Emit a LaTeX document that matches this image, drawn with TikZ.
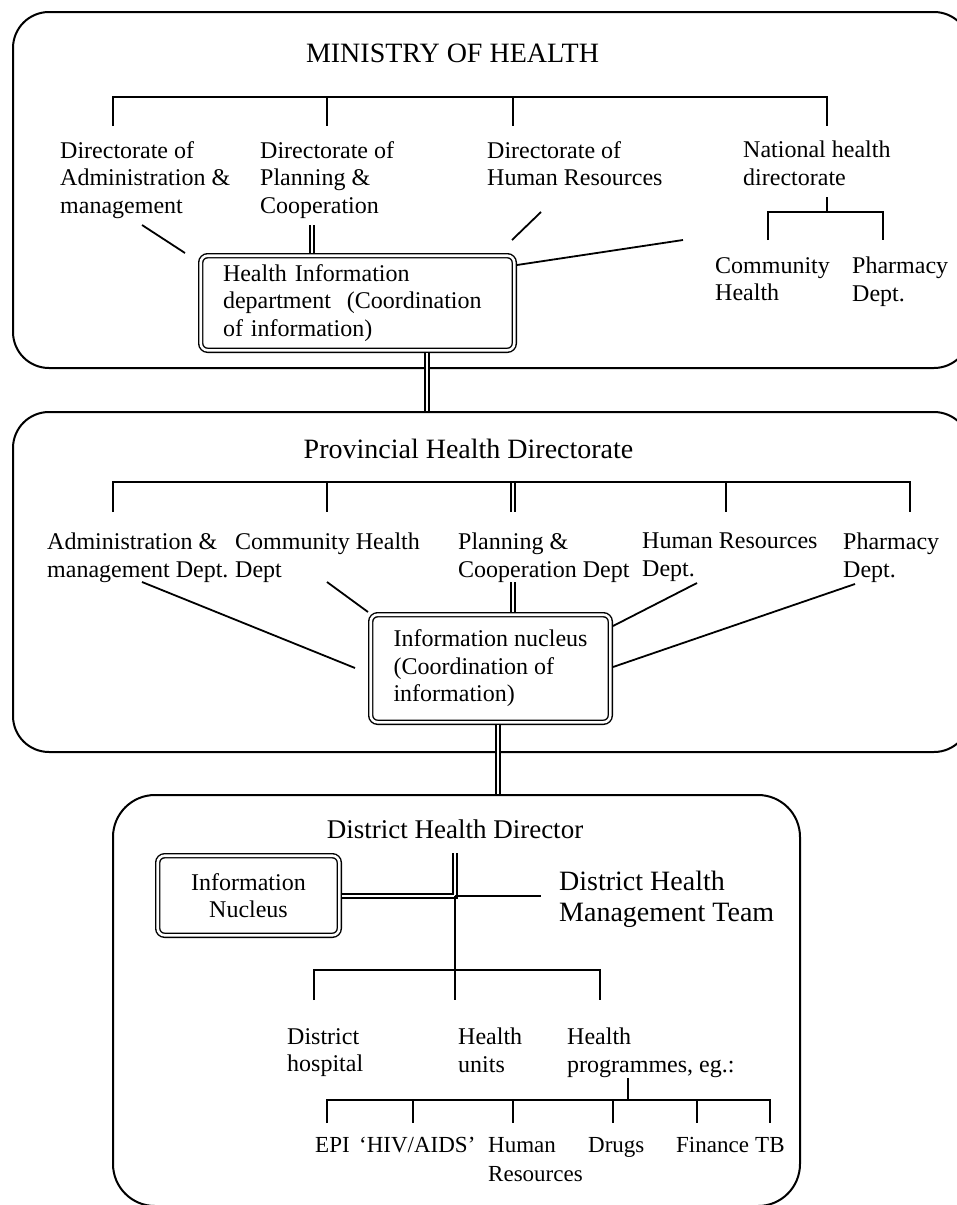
\documentclass[tikz,border=0pt]{standalone}
\usepackage{fontspec}
\setmainfont{Liberation Serif}
\begin{document}
\begin{tikzpicture}[x=1pt,y=-1pt,
  every node/.style={inner sep=0pt},
  frame/.style={draw, line width=2pt, rounded corners=36pt, inner sep=0pt},
  link/.style={draw, line width=1.8pt},
  dlink/.style={draw, line width=1.3pt, double, double distance=2.6pt},
  dbox/.style={draw, line width=1.4pt, double, double distance=2.6pt,
    rounded corners=7pt, outer sep=2.7pt, font=\fontsize{24}{27.5}\selectfont},
  lbl/.style={font=\fontsize{24}{27.5}\selectfont, align=left, anchor=north west},
  sml/.style={font=\fontsize{23}{29}\selectfont, align=left, anchor=north west},
  head/.style={font=\fontsize{28}{30}\selectfont, anchor=base},
]
\clip (0,0) rectangle (957,1205);

% ---------- the three tiers ----------
\node[frame, minimum width=957pt, minimum height=356pt] (tier1) at (491.5,190) {};
\node[frame, minimum width=957pt, minimum height=340pt] (tier2) at (491.5,582) {};
\node[frame, rounded corners=42pt, minimum width=687pt, minimum height=411pt] (tier3) at (456.5,1000.5) {};

% ---------- Ministry of Health ----------
\node[head] (moh) at (452.5,62) {MINISTRY OF HEALTH};
\node[lbl] (dadm) at (60,141) {Directorate of\\Administration \&\\management};
\node[lbl] (dpla) at (260,141) {Directorate of\\Planning \&\\Cooperation};
\node[lbl] (dhr)  at (487,141) {Directorate of\\Human Resources};
\node[lbl] (nhd)  at (743,141) {National health\\directorate};
\node[lbl] (ncom) at (715,257) {Community\\Health};
\node[lbl] (nph)  at (852,257) {Pharmacy\\Dept.};
\node[dbox, text width=269pt, inner xsep=22.3pt, minimum height=94.6pt, align=left]
  (hid) at (357.5,303) {Health Information\\department\ \ (Coordination\\of information)};

\coordinate (mA) at (113,126);
\coordinate (mB) at (327,126);
\coordinate (mC) at (513,126);
\coordinate (mD) at (827,126);
\coordinate (mbar) at (0,97);
\draw[link] (mA) -- (mA |- mbar) -- (mD |- mbar) -- (mD);
\draw[link] (mB |- mbar) -- (mB);
\draw[link] (mC |- mbar) -- (mC);

\coordinate (nT) at (827,197);
\coordinate (nL) at (768,240);
\coordinate (nR) at (883,240);
\coordinate (nbar) at (0,212);
\draw[link] (nT) -- (nT |- nbar);
\draw[link] (nL) -- (nL |- nbar) -- (nR |- nbar) -- (nR);

\coordinate (pl) at (312,225);
\draw[dlink] (pl) -- (pl |- hid.north);
\coordinate (ad1) at (142,225);
\coordinate (ad2) at (185,253);
\draw[link] (ad1) -- (ad2);
\coordinate (hr1) at (541,212);
\coordinate (hr2) at (512,240);
\draw[link] (hr1) -- (hr2);
\coordinate (nh1) at (683,240);
\coordinate (nh2) at (0,265);
\draw[link] (nh1) -- (hid.east |- nh2);

\coordinate (down1) at (427,0);
\draw[dlink] (down1 |- hid.south) -- (down1 |- tier2.north);

% ---------- Provincial Health Directorate ----------
\node[head] (phd) at (468.5,458) {Provincial Health Directorate};
\node[lbl] (padm) at (47,533)  {Administration \&\\management Dept.};
\node[lbl] (pcom) at (235,533) {Community Health\\Dept};
\node[lbl] (ppla) at (458,533) {Planning \&\\Cooperation Dept};
\node[lbl] (phr)  at (642,533) {Human Resources\\Dept.};
\node[lbl] (pph)  at (843,533) {Pharmacy\\Dept.};
\node[dbox, minimum width=239.6pt, minimum height=107.6pt, align=left]
  (pnuc) at (490.5,668.5) {Information nucleus\\(Coordination of\\information)};

\coordinate (qA) at (113,512);
\coordinate (qB) at (327,512);
\coordinate (qC) at (513,512);
\coordinate (qD) at (726,512);
\coordinate (qE) at (910,512);
\coordinate (qbar) at (0,482);
\draw[dlink] (qC |- qbar) -- (qC);
\draw[link] (qA) -- (qA |- qbar) -- (qE |- qbar) -- (qE);
\draw[link] (qB |- qbar) -- (qB);
\draw[link] (qD |- qbar) -- (qD);

\coordinate (pc) at (513,582);
\draw[dlink] (pc) -- (pc |- pnuc.north);
\coordinate (pa1) at (142,582);
\coordinate (pa2) at (355,668);
\draw[link] (pa1) -- (pa2);
\coordinate (pm1) at (327,582);
\draw[link] (pm1) -- (pnuc.north west);
\coordinate (ph1) at (697,583);
\coordinate (ph2) at (0,626);
\draw[link] (ph1) -- (pnuc.east |- ph2);
\coordinate (pp1) at (855,584);
\coordinate (pp2) at (0,667);
\draw[link] (pp1) -- (pnuc.east |- pp2);

\coordinate (down2) at (498,0);
\draw[dlink] (down2 |- pnuc.south) -- (down2 |- tier3.north);

% ---------- District ----------
\node[head, font=\fontsize{27}{30}\selectfont] (dhd) at (455,838) {District Health Director};
\node[dbox, minimum width=181.6pt, minimum height=79.6pt, align=center]
  (dnuc) at (248.5,895.5) {Information\\Nucleus};
\node[anchor=north west, align=left, font=\fontsize{28}{31}\selectfont]
  (dhmt) at (559,870.5) {District Health\\Management Team};

\coordinate (dtop) at (455,853);
\coordinate (dj) at (455,896);
\draw[dlink] (dtop) -- (dj) -- (dnuc.east |- dj);
\coordinate (dr) at (541,896);
\draw[link] (dj) -- (dr);
\coordinate (dbot) at (455,1000);
\draw[link] (dj) -- (dbot);

\coordinate (rA) at (314,1000);
\coordinate (rC) at (600,1000);
\coordinate (rbar) at (0,970);
\draw[link] (rA) -- (rA |- rbar) -- (rC |- rbar) -- (rC);

\node[lbl] (dhos) at (287,1028) {District\\hospital};
\node[lbl] (dhu)  at (458,1028) {Health\\units};
\node[lbl] (dhp)  at (567,1028) {Health\\programmes, eg.:};

\coordinate (gT) at (628,1078);
\coordinate (gbar) at (0,1100);
\draw[link] (gT) -- (gT |- gbar);
\coordinate (g1) at (327,1123);
\coordinate (g2) at (413,1123);
\coordinate (g3) at (513,1123);
\coordinate (g4) at (613,1123);
\coordinate (g5) at (697,1123);
\coordinate (g6) at (770,1123);
\draw[link] (g1) -- (g1 |- gbar) -- (g6 |- gbar) -- (g6);
\foreach \g in {g2,g3,g4,g5} \draw[link] (\g |- gbar) -- (\g);

\node[sml] (epi) at (315,1137) {EPI};
\node[sml] (hiv) at (359,1137) {‘HIV/AIDS’};
\node[sml] (hum) at (488,1137) {Human\\Resources};
\node[sml] (drg) at (588,1137) {Drugs};
\node[sml] (fin) at (676,1137) {Finance};
\node[sml] (tb)  at (755,1137) {TB};
\end{tikzpicture}
\end{document}
